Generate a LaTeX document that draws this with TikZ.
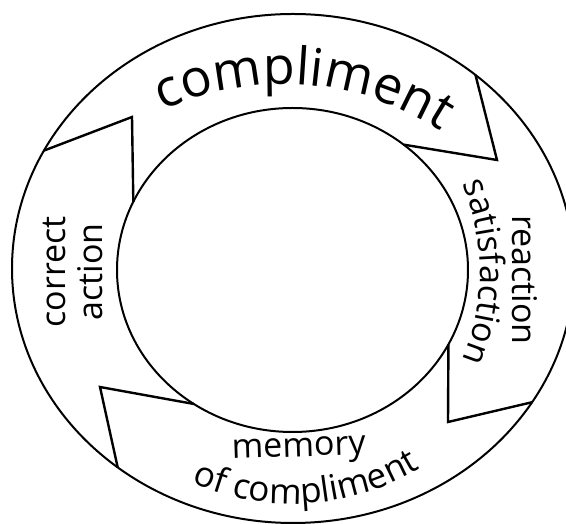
\documentclass[tikz,border=0pt]{standalone}
\usepackage{fontspec}
\setmainfont{Open Sans}
\usetikzlibrary{calc,decorations.text}
\tikzset{every node/.style={font=\fontsize{34}{37}\selectfont, inner sep=0pt}}
\tikzset{ring/.style={line width=2pt}, notch/.style={line width=2.4pt, line join=miter}}

\begin{document}
\begin{tikzpicture}[x=1pt, y=1pt]
  \fill[white] (0,0) rectangle (566,524);
  \useasboundingbox (0,0) rectangle (566,524);
  \clip (0,0) rectangle (566,524);

  % Centres of the two rings.
  \coordinate (oc) at (293,255.5);
  \coordinate (ic) at (292.5,254);

  % Outer and inner ring.
  \draw[ring] (oc) ellipse [x radius=281, y radius=254.5];
  \draw[ring] (ic) ellipse [x radius=175.5, y radius=162];

  % Ends of the four arrows on the rings.
  \coordinate (Ao) at ($(oc)+(49.5:281 and 254.5)$);
  \coordinate (Ai) at ($(ic)+(50.7:175.5 and 162)$);
  \coordinate (At) at (497,364);
  \coordinate (Bo) at ($(oc)+(-31.7:281 and 254.5)$);
  \coordinate (Bi) at ($(ic)+(-27.3:175.5 and 162)$);
  \coordinate (Bt) at (448,102);
  \coordinate (Co) at ($(oc)+(-128.6:281 and 254.5)$);
  \coordinate (Ci) at ($(ic)+(-124.2:175.5 and 162)$);
  \coordinate (Ct) at (100,137);
  \coordinate (Do) at ($(oc)+(152.4:281 and 254.5)$);
  \coordinate (Di) at ($(ic)+(155.1:175.5 and 162)$);
  \coordinate (Dt) at (132,407);

  % Arrow points.
  \draw[notch] (Ao) -- (At) -- (Ai);
  \draw[notch] (Bi) -- (Bt) -- (Bo);
  \draw[notch] (Ci) -- (Ct) -- (Co);
  \draw[notch] (Do) -- (Dt) -- (Di);

  % Curved labels.
  \coordinate (tc) at (283.4,151.6);
  \path[decorate, decoration={text along path, text align=center,
      text={|\fontsize{52}{52}\selectfont|compliment}}]
    ($(tc)+(125.8:288)$) arc [start angle=125.8, end angle=45.8, radius=288];
  \coordinate (sc) at (251,252);
  \path[decorate, decoration={text along path, text align=center,
      text={|\fontsize{34}{34}\selectfont|satisfaction}}]
    ($(sc)+(30:229)$) arc [start angle=30, end angle=-30, radius=229];
  \coordinate (bc) at (292.7,265.1);
  \path[decorate, decoration={text along path, text align=center,
      text={|\fontsize{35}{35}\selectfont|of compliment}}]
    ($(bc)+(-126.5:245)$) arc [start angle=-126.5, end angle=-46.5, radius=245];

  % Straight labels.
  \node[anchor=base, rotate=90] (correct) at (65.7,252) {correct};
  \node[anchor=base, rotate=90] (action) at (102.7,252) {action};
  \node[anchor=base, rotate=-90] (reaction) at (512,244) {reaction};
  \node[anchor=base, rotate=2] (memory) at (299,67.5) {memory};
\end{tikzpicture}
\end{document}
